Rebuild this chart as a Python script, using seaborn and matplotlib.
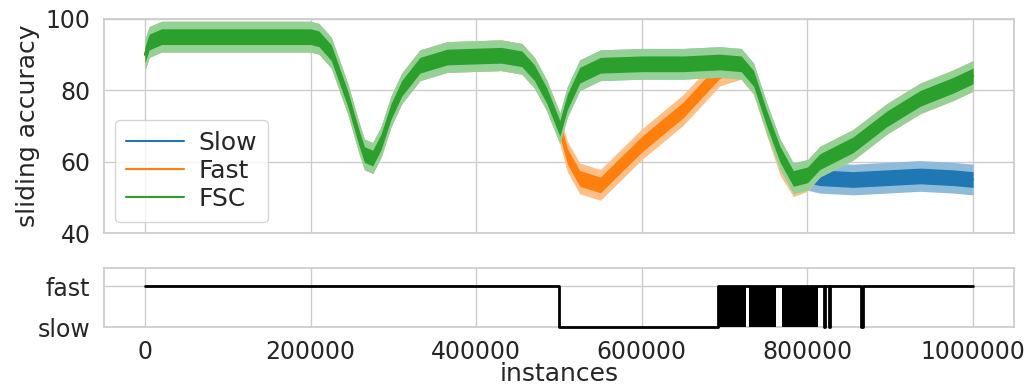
import numpy as np
import pandas as pd
import matplotlib
matplotlib.use("Agg")
import matplotlib.pyplot as plt
import seaborn as sns

instances = [0, 5000, 20000, 100000, 200000, 210000, 225000, 245000, 258000, 265000,
             275000, 285000, 297000, 310000, 332000, 365000, 430000, 455000, 470000,
             485000, 501000, 510000, 525000, 550000, 600000, 650000, 694000, 720000,
             735000, 751000, 767000, 783000, 800000, 815000, 855000, 896000, 936000,
             976000, 1000000]

slow = [90, 93.5, 95, 95, 95, 94.4, 90.5, 77.5, 67, 62, 61, 65.5, 74, 80.5, 87, 89.3,
        89.8, 88.8, 85, 78.6, 69.3, 76.7, 84.2, 87, 87.4, 87.4, 87.9, 87.4, 83.3, 72,
        62, 55.3, 56.3, 55.5, 55, 55.5, 56, 55.5, 55]
fast = [90, 93.5, 95, 95, 95, 94.4, 90.5, 77.5, 67, 62, 61, 65.5, 74, 80.5, 87, 89.3,
        89.8, 88.8, 85, 78.6, 69.3, 61.5, 55.3, 53.5, 64.9, 74.5, 85.5, 87.4, 83, 71.5,
        60.5, 54.5, 56, 60, 64.7, 72, 77.7, 81.4, 84]
fsc = [90, 93.5, 95, 95, 95, 94.4, 90.5, 77.5, 67, 62, 61, 65.5, 74, 80.5, 87, 89.3,
       89.8, 88.8, 85, 78.6, 69.3, 76.7, 84.2, 87, 87.4, 87.4, 87.9, 87.4, 83.3, 72,
       62, 55.3, 56.3, 60, 64.7, 72, 77.7, 81.4, 84]

# spread of the noisy sliding accuracy around the curve (dense core, spikes)
core_spread = 2.2
spike_spread = 4.3

# mode chosen by FSC: 1 = fast, 0 = slow
mode_x = [0, 500000, 692000, 820000, 821500, 826000, 827500, 865000, 866500, 1000000]
mode_y = [1, 0, 1, 0, 1, 0, 1, 0, 1, 1]
# stretches where it flips back and forth too quickly to separate
dense_start = [692000, 730000, 769000]
dense_end = [726000, 762000, 813000]

series = ["Slow", "Fast", "FSC"]
colors = dict(zip(series, sns.color_palette("tab10", 3)))


def lighten(c, amount):
    c = np.array(c)
    return tuple(c + (1 - c) * amount)


df = pd.DataFrame({
    "instances": instances * 3,
    "acc": slow + fast + fsc,
    "model": ["Slow"] * len(instances) + ["Fast"] * len(instances) + ["FSC"] * len(instances),
})

sns.set_theme(style="whitegrid")
plt.rcParams["font.family"] = ["DejaVu Sans"]

fig = plt.figure(figsize=(10.3, 3.84), dpi=100)
ax1 = fig.add_axes([0.1006, 0.393, 0.8843, 0.558])
ax2 = fig.add_axes([0.1006, 0.148, 0.8843, 0.154], sharex=ax1)

# later series sit on top, like the original plotting order
for i, name in enumerate(series):
    sub = df[df["model"] == name]
    z = 2 + i
    ax1.fill_between(sub["instances"], sub["acc"] - spike_spread, sub["acc"] + spike_spread,
                     color=lighten(colors[name], 0.5), linewidth=0, zorder=z)
    ax1.fill_between(sub["instances"], sub["acc"] - core_spread, sub["acc"] + core_spread,
                     color=colors[name], linewidth=0, zorder=z)
    sns.lineplot(data=sub, x="instances", y="acc", color=colors[name], label=name,
                 ax=ax1, linewidth=1.5, sort=False, estimator=None, zorder=z)

ax1.set_ylim(40, 100)
ax1.set_yticks([40, 60, 80, 100])
ax1.set_xlim(-50000, 1050000)
ax1.set_ylabel("sliding accuracy", fontsize=18, labelpad=4)
ax1.set_xlabel("")
ax1.tick_params(axis="y", labelsize=17)
ax1.tick_params(axis="x", labelbottom=False)
leg = ax1.legend(loc="lower left", fontsize=18, handlelength=2.3, handletextpad=0.6,
                 labelspacing=0.15, borderpad=0.45, borderaxespad=0.45)
leg.set_zorder(10)

# bottom: which learner is active
sns.lineplot(x=mode_x, y=mode_y, ax=ax2, color="black", linewidth=2,
             drawstyle="steps-post", sort=False, estimator=None, zorder=3, clip_on=False)
for s, e in zip(dense_start, dense_end):
    ax2.fill_between([s, e], 0, 1, color="black", linewidth=0, zorder=3)

ax2.set_ylim(0, 1.45)
ax2.set_yticks([0, 1])
ax2.set_yticklabels(["slow", "fast"])
ax2.set_xticks([0, 200000, 400000, 600000, 800000, 1000000])
ax2.ticklabel_format(style="plain", axis="x")
ax2.tick_params(labelsize=17)
ax2.set_xlabel("instances", fontsize=18, labelpad=-2)

fig.savefig("out.png", dpi=100)
